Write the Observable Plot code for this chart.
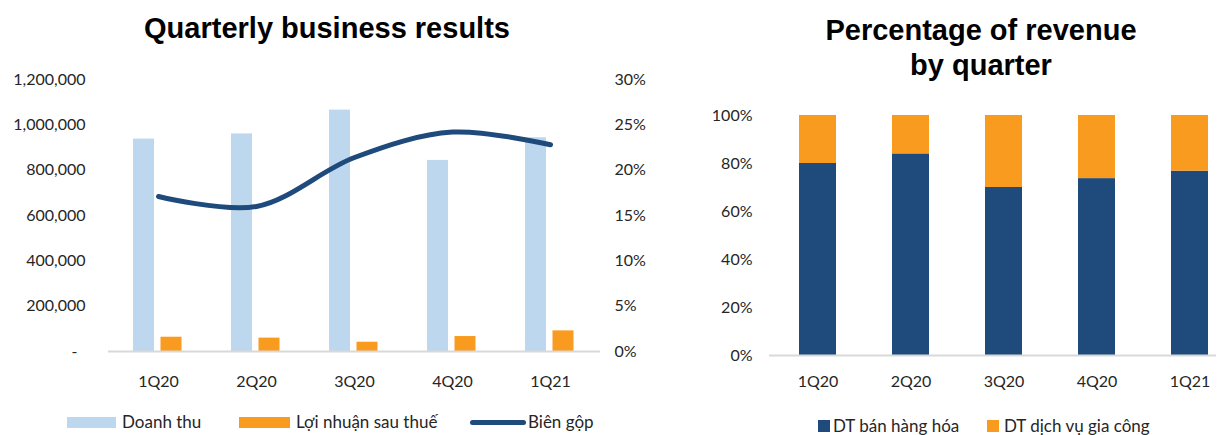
<!DOCTYPE html>
<html><head><meta charset="utf-8">
<script src="https://cdn.jsdelivr.net/npm/d3@7"></script>
<script src="https://cdn.jsdelivr.net/npm/@observablehq/plot@0.6"></script>
<style>
html,body{margin:0;padding:0;background:#fff;overflow:hidden}
#root{position:relative;width:1225px;height:435px;overflow:hidden;font-family:Lato,"Open Sans",sans-serif;color:#262626}
.title{position:absolute;font-family:"Liberation Sans",Arial,sans-serif;font-weight:bold;font-size:29px;color:#000;text-align:center;line-height:35px}
.leg{position:absolute;font-size:17px;line-height:20px;white-space:nowrap;color:#262626}
.sw{position:absolute}
.chart{position:absolute;overflow:hidden}
</style></head><body><div id="root">
<div class="title" style="left:0;top:11px;width:654px">Quarterly business results</div>
<div class="title" style="left:781px;top:13px;width:400px">Percentage of revenue<br>by quarter</div>
<div id="left" class="chart" style="left:0;top:60px;width:660px;height:340px"></div>
<div id="right" class="chart" style="left:680px;top:90px;width:536px;height:300px"></div>
<div id="legL"></div>
<div id="legR"></div>
</div>
<script>
// ---- data ----
const quarters = ["1Q20", "2Q20", "3Q20", "4Q20", "1Q21"];
const revenue = [937000, 960000, 1065000, 843000, 943000];
const profit = [63000, 59000, 41000, 66000, 91000];
const grossMargin = [0.171, 0.160, 0.214, 0.242, 0.228];
const yTicks = [200000, 400000, 600000, 800000, 1000000, 1200000];
const marginTicks = [0, 0.05, 0.10, 0.15, 0.20, 0.25, 0.30];

const seriesNames = ["DT bán hàng hóa", "DT dịch vụ gia công"];
const goodsShare = [80, 84, 70, 73.7, 76.8];
const serviceShare = [20, 16, 30, 26.3, 23.2];
const shareTicks = [0, 20, 40, 60, 80, 100];

const legendLeft = ["Doanh thu", "Lợi nhuận sau thuế", "Biên gộp"];

const C_BLUE = "#bdd7ee", C_ORANGE = "#f99b1f", C_NAVY = "#1f4a7c";
const SCALE = 4000000; // 30% on right axis <-> 1,200,000 on left axis

const rows = quarters.map((q, i) => ({quarter: q, revenue: revenue[i], profit: profit[i], margin: grossMargin[i]}));
const shareRows = [];
quarters.forEach((q, i) => {
  shareRows.push({quarter: q, series: seriesNames[0], value: goodsShare[i]});
  shareRows.push({quarter: q, series: seriesNames[1], value: serviceShare[i]});
});

const baseStyle = {fontFamily: "Lato, 'Open Sans', sans-serif", fontSize: "16px", color: "#262626", background: "transparent", overflow: "visible"};

const left = Plot.plot({
  width: 660, height: 340,
  marginLeft: 108, marginRight: 60, marginTop: 19, marginBottom: 49,
  style: baseStyle,
  x: {domain: quarters, padding: 0, label: null},
  y: {domain: [0, 1200000], label: null},
  marks: [
    Plot.barY(rows, {x: "quarter", y: "revenue", fill: C_BLUE, insetLeft: 24, insetRight: 53}),
    Plot.barY(rows, {x: "quarter", y: "profit", fill: C_ORANGE, insetLeft: 51.5, insetRight: 25.5}),
    Plot.ruleY([0], {stroke: "#d9d9d9", strokeWidth: 2}),
    Plot.line(rows, {x: "quarter", y: d => d.margin * SCALE, stroke: C_NAVY, strokeWidth: 5, curve: "catmull-rom", strokeLinecap: "round", strokeLinejoin: "round"}),
    Plot.axisX({tickSize: 0, tickPadding: 24, label: null}),
    Plot.axisY({ticks: yTicks, tickSize: 0, tickPadding: 23, tickFormat: d3.format(","), label: null}),
    Plot.axisY({ticks: [0], tickSize: 0, tickPadding: 31, tickFormat: () => "-", label: null}),
    Plot.axisY({anchor: "right", ticks: marginTicks.map(m => m * SCALE), tickSize: 0, tickPadding: 14, tickFormat: d => Math.round(d / SCALE * 100) + "%", label: null})
  ]
});
document.getElementById("left").appendChild(left);

const right = Plot.plot({
  width: 536, height: 300,
  marginLeft: 89, marginRight: 0, marginTop: 25, marginBottom: 35,
  style: baseStyle,
  x: {domain: quarters, range: [89, 558], paddingInner: 0.6, paddingOuter: 0.3, label: null},
  y: {domain: [0, 100], label: null},
  color: {domain: seriesNames, range: [C_NAVY, C_ORANGE]},
  marks: [
    Plot.barY(shareRows, {x: "quarter", y: "value", fill: "series", order: seriesNames}),
    Plot.ruleY([0], {stroke: "#d9d9d9", strokeWidth: 2}),
    Plot.axisX({tickSize: 0, tickPadding: 20, label: null}),
    Plot.axisY({ticks: shareTicks, tickSize: 0, tickPadding: 17, tickFormat: d => d + "%", label: null})
  ]
});
document.getElementById("right").appendChild(right);

// ---- legends ----
function addSwatch(parent, x, y, w, h, color, radius) {
  const d = document.createElement("div");
  d.className = "sw";
  d.style.cssText = `left:${x}px;top:${y}px;width:${w}px;height:${h}px;background:${color};border-radius:${radius || 0}px`;
  parent.appendChild(d);
}
function addText(parent, x, yc, text) {
  const d = document.createElement("div");
  d.className = "leg";
  d.style.left = x + "px";
  d.style.top = (yc - 10) + "px";
  d.textContent = text;
  parent.appendChild(d);
}
const root = document.getElementById("root");
addSwatch(root, 67, 417, 49, 11, C_BLUE);
addText(root, 122, 422, legendLeft[0]);
addSwatch(root, 239, 417, 51, 11, C_ORANGE);
addText(root, 296, 422, legendLeft[1]);
addSwatch(root, 470, 420, 56, 5, C_NAVY, 3);
addText(root, 528, 422, legendLeft[2]);

addSwatch(root, 818, 420, 12, 12, C_NAVY);
addText(root, 833, 426, seriesNames[0]);
addSwatch(root, 987, 420, 12, 12, C_ORANGE);
addText(root, 1004, 426, seriesNames[1]);
</script></body></html>
